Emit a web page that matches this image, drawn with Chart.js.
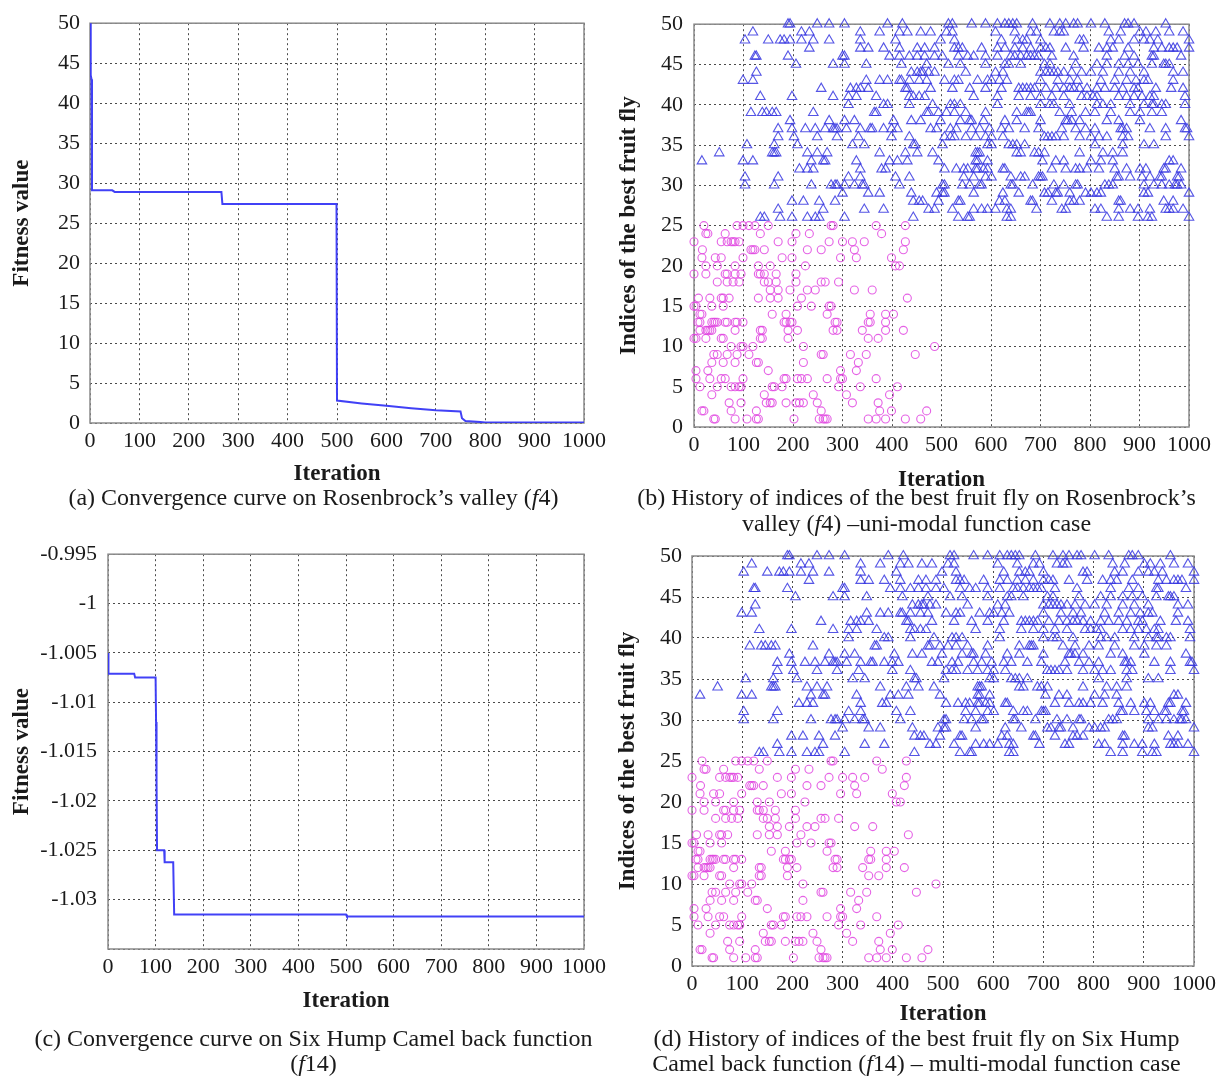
<!DOCTYPE html>
<html>
<head>
<meta charset="utf-8">
<title>Fruit fly convergence and best-index history</title>
<script src="https://cdn.jsdelivr.net/npm/chart.js@4.4.1/dist/chart.umd.min.js"></script>
<style>
    body { margin: 0; background: #fff; width: 1222px; height: 1077px; position: relative; overflow: hidden; }
    canvas { position: absolute; }
    .caption {
        position: absolute;
        width: 611px;
        text-align: center;
        font-family: 'Liberation Serif', 'Times New Roman', serif;
        font-size: 24px;
        line-height: 26px;
        color: #1a1a1a;
        white-space: nowrap;
    }
</style>
</head>
<body>
<canvas id="chartA" width="611" height="490" style="left:0;top:0"></canvas>
<canvas id="chartB" width="611" height="494" style="left:611px;top:0"></canvas>
<canvas id="chartC" width="611" height="490" style="left:0;top:530px"></canvas>
<canvas id="chartD" width="611" height="500" style="left:611px;top:530px"></canvas>

<div class="caption" style="left:8px;top:484px">(a) Convergence curve on Rosenbrock’s valley (<i>f</i>4)</div>
<div class="caption" style="left:611px;top:484px">(b) History of indices of the best fruit fly on Rosenbrock’s<br>valley (<i>f</i>4) –uni-modal function case</div>
<div class="caption" style="left:8px;top:1026px;line-height:25px">(c) Convergence curve on Six Hump Camel back function<br>(<i>f</i>14)</div>
<div class="caption" style="left:611px;top:1026px;line-height:25px">(d) History of indices of the best fruit fly on Six Hump<br>Camel back function (<i>f</i>14) – multi-modal function case</div>

<script>
// Convergence curve on Rosenbrock's valley (f4)
const curveAIter = [0, 1, 2, 3, 4, 45, 50, 266, 268, 499, 500, 550, 600, 650, 700, 750, 753, 760, 790, 800, 1000];
const curveAFit  = [52, 50, 43.5, 43, 29.1, 29.1, 28.9, 28.9, 27.4, 27.4, 2.8, 2.45, 2.15, 1.85, 1.6, 1.45, 0.6, 0.25, 0.12, 0.05, 0.05];

// Convergence curve on Six Hump Camel back (f14)
const curveCIter = [0, 1, 55, 57, 100, 101, 102, 103, 105, 118, 119, 137, 139, 500, 502, 1000];
const curveCFit  = [-1.0050, -1.0071, -1.0071, -1.0075, -1.0075, -1.0120, -1.0180, -1.0250, -1.0250, -1.0250, -1.0262, -1.0262, -1.0315, -1.0315, -1.0317, -1.0317];

// index of best fly -> iterations where it was best (upper half of the swarm)
const triangleRows = [
    [50, [190, 194, 249, 273, 304, 391, 421, 514, 522, 561, 589, 613, 628, 636, 644, 652, 684, 719, 739, 751, 767, 775, 802, 830, 870, 877, 889, 953]],
    [49, [119, 217, 233, 336, 375, 415, 431, 458, 478, 510, 522, 609, 648, 680, 692, 727, 739, 747, 838, 862, 901, 913, 933, 960, 988]],
    [48, [103, 150, 174, 182, 194, 217, 241, 273, 336, 407, 498, 526, 621, 652, 664, 672, 700, 779, 787, 842, 858, 889, 909, 921, 937, 1000]],
    [47, [233, 336, 352, 383, 415, 451, 466, 486, 526, 534, 542, 581, 613, 628, 648, 664, 680, 700, 711, 719, 751, 787, 818, 834, 846, 877, 929, 945, 960, 968, 976, 1000]],
    [46, [123, 126, 190, 300, 304, 395, 415, 435, 451, 466, 486, 502, 534, 553, 565, 589, 613, 640, 648, 660, 672, 680, 688, 696, 723, 767, 834, 870, 889, 925, 929, 984]],
    [45, [206, 281, 304, 348, 419, 470, 514, 538, 589, 628, 636, 660, 708, 719, 771, 814, 834, 858, 877, 897, 925, 949, 953, 960]],
    [44, [126, 439, 451, 458, 462, 474, 486, 549, 609, 624, 700, 711, 719, 727, 735, 747, 763, 783, 802, 826, 858, 881, 909, 968, 988]],
    [43, [99, 119, 348, 375, 391, 415, 419, 435, 455, 470, 506, 526, 534, 573, 593, 601, 617, 632, 700, 735, 759, 775, 822, 850, 874, 893, 909, 917, 968]],
    [42, [257, 316, 328, 336, 352, 427, 431, 478, 522, 557, 589, 621, 656, 664, 672, 680, 688, 711, 731, 747, 759, 767, 779, 794, 814, 830, 850, 866, 889, 897, 933, 964, 988]],
    [41, [134, 198, 281, 312, 328, 368, 435, 443, 455, 466, 565, 613, 656, 680, 700, 723, 747, 783, 794, 806, 814, 858, 874, 889, 905, 921, 929, 992]],
    [40, [312, 383, 391, 435, 482, 518, 526, 538, 613, 700, 719, 727, 759, 814, 826, 842, 881, 909, 925, 929, 945, 953, 992]],
    [39, [115, 138, 146, 158, 166, 241, 364, 368, 470, 474, 494, 510, 526, 549, 589, 652, 672, 676, 680, 739, 763, 791, 810, 842, 881, 901, 925, 945]],
    [38, [194, 273, 304, 324, 403, 439, 458, 498, 538, 557, 561, 585, 628, 652, 700, 751, 755, 763, 779, 834, 858, 901, 984]],
    [37, [170, 198, 225, 245, 265, 281, 285, 289, 308, 336, 356, 360, 383, 399, 411, 478, 490, 518, 530, 561, 577, 597, 621, 636, 668, 696, 743, 771, 791, 810, 862, 866, 874, 921, 953, 992, 996]],
    [36, [170, 202, 249, 289, 332, 399, 435, 506, 518, 526, 549, 569, 589, 601, 624, 708, 715, 723, 731, 747, 779, 802, 818, 834, 866, 877, 953, 1000]],
    [35, [107, 162, 209, 320, 344, 443, 447, 502, 593, 601, 636, 644, 652, 668, 810, 866, 909, 929]],
    [34, [51, 158, 162, 166, 229, 249, 269, 375, 427, 451, 482, 569, 573, 577, 652, 660, 688, 696, 708, 779, 826, 846, 866]],
    [33, [16, 99, 119, 237, 261, 265, 328, 395, 411, 431, 494, 569, 573, 593, 704, 731, 747, 802, 822, 846, 960, 968]],
    [32, [213, 229, 241, 336, 379, 387, 506, 530, 545, 553, 569, 573, 585, 593, 624, 628, 723, 751, 771, 779, 794, 818, 850, 874, 901, 913, 949, 953, 984]],
    [31, [103, 170, 312, 336, 407, 435, 545, 565, 589, 601, 640, 660, 668, 696, 700, 704, 854, 858, 881, 905, 921, 941, 945, 976, 980]],
    [30, [103, 162, 237, 277, 285, 289, 304, 324, 340, 344, 415, 502, 506, 542, 557, 577, 581, 640, 644, 684, 727, 747, 771, 775, 830, 838, 846, 909, 929, 945, 960, 972, 976, 984]],
    [29, [300, 352, 375, 439, 490, 502, 506, 565, 624, 656, 708, 715, 731, 735, 759, 791, 802, 814, 822, 909, 917, 1000]],
    [28, [198, 221, 253, 285, 443, 455, 462, 494, 534, 538, 617, 628, 680, 684, 723, 759, 767, 779, 858, 862, 949, 968]],
    [27, [170, 261, 344, 383, 474, 486, 522, 565, 581, 593, 609, 632, 640, 692, 743, 751, 810, 822, 858, 881, 897, 921, 953, 960, 968, 988]],
    [26, [134, 142, 174, 198, 229, 245, 253, 304, 443, 534, 553, 557, 632, 640, 834, 858, 897, 917, 925, 1000]]
];

// lower half of the swarm
const circleRows = [
    [25, [20, 87, 99, 111, 123, 150, 277, 281, 368, 427]],
    [24, [24, 28, 63, 134, 206, 233, 379]],
    [23, [0, 55, 67, 75, 79, 83, 91, 170, 198, 273, 300, 320, 344, 427]],
    [22, [17, 115, 119, 123, 142, 229, 257, 324, 423]],
    [21, [16, 43, 55, 99, 178, 198, 296, 328, 399]],
    [20, [24, 47, 83, 130, 154, 225, 407, 415]],
    [19, [0, 24, 63, 67, 83, 95, 130, 134, 142, 166, 206]],
    [18, [47, 67, 79, 91, 142, 150, 166, 206, 257, 265, 292]],
    [17, [154, 170, 194, 229, 245, 324, 360]],
    [16, [9, 32, 55, 59, 71, 130, 154, 170, 217, 431]],
    [15, [0, 4, 36, 59, 209, 237, 273, 277]],
    [14, [12, 16, 158, 186, 269, 356, 387, 403]],
    [13, [8, 12, 36, 40, 43, 47, 63, 67, 83, 87, 99, 182, 186, 194, 198, 285, 289, 352, 356, 387]],
    [12, [12, 24, 28, 32, 36, 83, 134, 138, 190, 209, 281, 289, 340, 387, 423]],
    [11, [0, 4, 24, 55, 59, 134, 138, 190, 352, 372]],
    [10, [75, 95, 99, 119, 221, 486]],
    [9, [40, 47, 67, 87, 111, 257, 261, 316, 348, 447]],
    [8, [36, 59, 83, 126, 130, 221, 332]],
    [7, [4, 28, 150, 296, 328]],
    [6, [4, 32, 55, 63, 99, 182, 186, 209, 217, 229, 269, 296, 300, 368]],
    [5, [12, 47, 75, 83, 91, 95, 158, 162, 178, 292, 336, 411]],
    [4, [36, 142, 241, 308, 395]],
    [3, [71, 95, 146, 154, 158, 186, 206, 213, 221, 249, 320, 372]],
    [2, [16, 20, 75, 126, 257, 375, 399, 470]],
    [1, [40, 43, 83, 107, 126, 130, 202, 253, 261, 265, 269, 352, 368, 387, 427, 458]]
];

const SERIF = "'Liberation Serif', 'Times New Roman', serif";
const TEXT = '#1a1a1a';

// gray frame round the plot area, drawn under the data
const frame = {
    id: 'frame',
    beforeDatasetsDraw(chart) {
        const { ctx, chartArea: a } = chart;
        ctx.save();
        ctx.strokeStyle = '#8a8a8a';
        ctx.lineWidth = 1.5;
        ctx.strokeRect(a.left, a.top, a.right - a.left, a.bottom - a.top);
        ctx.restore();
    }
};

function toPoints(xs, ys) {
    return xs.map((x, i) => ({ x: x, y: ys[i] }));
}

function rowsToPoints(rows) {
    return rows.flatMap(([idx, iters]) => iters.map(it => ({ x: it, y: idx })));
}

function axis(cfg) {
    return {
        type: 'linear',
        min: cfg.min,
        max: cfg.max,
        afterFit: cfg.fit,
        border: { display: false, dash: [2, 3] },
        grid: { color: '#4a4a4a', lineWidth: 1, drawTicks: false },
        ticks: {
            stepSize: cfg.step,
            padding: cfg.pad,
            color: TEXT,
            font: { family: SERIF, size: 22 },
            autoSkip: false,
            maxRotation: 0,
            callback: cfg.label || (v => String(v))
        },
        title: {
            display: true,
            text: cfg.title,
            color: TEXT,
            font: { family: SERIF, size: 23, weight: 'bold' },
            padding: cfg.titlePad
        }
    };
}

function makeChart(id, datasets, opts) {
    return new Chart(document.getElementById(id), {
        type: 'scatter',
        data: { datasets: datasets },
        options: {
            responsive: false,
            animation: false,
            devicePixelRatio: 1,
            layout: { padding: opts.padding },
            plugins: { legend: { display: false }, tooltip: { enabled: false } },
            scales: {
                x: axis(Object.assign({ min: 0, max: 1000, step: 100, pad: 5, title: 'Iteration',
                    fit: s => { s.height = opts.xHeight; } }, opts.x)),
                y: axis(Object.assign({ pad: 10, fit: s => { s.width = opts.yWidth; } }, opts.y))
            }
        },
        plugins: [frame]
    });
}

function curveSet(points) {
    return {
        data: points,
        showLine: true,
        borderColor: 'rgba(55, 55, 245, 0.95)',
        borderWidth: 2,
        pointRadius: 0,
        tension: 0
    };
}

function swarmSets() {
    return [
        {
            data: rowsToPoints(triangleRows),
            pointStyle: 'triangle',
            pointRadius: 5.5,
            pointBorderWidth: 1.1,
            pointBorderColor: 'rgba(55, 55, 225, 0.85)',
            pointBackgroundColor: 'rgba(0,0,0,0)',
            clip: false
        },
        {
            data: rowsToPoints(circleRows),
            pointStyle: 'circle',
            pointRadius: 4,
            pointBorderWidth: 1.1,
            pointBorderColor: 'rgba(225, 70, 225, 0.85)',
            pointBackgroundColor: 'rgba(0,0,0,0)',
            clip: false
        }
    ];
}

// (a)
makeChart('chartA', [curveSet(toPoints(curveAIter, curveAFit))], {
    padding: { top: 18, right: 23, left: 0, bottom: 0 },
    xHeight: 67, yWidth: 90,
    x: { titlePad: { top: 0, bottom: 2 } },
    y: { min: 0, max: 50, step: 5, title: 'Fitness value', titlePad: { top: 8, bottom: 0 } }
});

// (b)
makeChart('chartB', swarmSets(), {
    padding: { top: 17, right: 33, left: 0, bottom: 0 },
    xHeight: 67, yWidth: 83,
    x: { titlePad: { top: 0, bottom: 0 } },
    y: { min: 0, max: 50, step: 5, pad: 11, title: 'Indices of the best fruit fly', titlePad: { top: 4, bottom: 0 } }
});

// (c)
makeChart('chartC', [curveSet(toPoints(curveCIter, curveCFit))], {
    padding: { top: 22, right: 21, left: 0, bottom: 0 },
    xHeight: 71, yWidth: 108,
    x: { titlePad: { top: 0, bottom: 5 } },
    y: {
        min: -1.035, max: -0.995, step: 0.005, pad: 11, title: 'Fitness value',
        titlePad: { top: 8, bottom: 0 },
        label: v => (Math.abs(v + 1.035) < 1e-9 ? '' : String(Number(v.toFixed(3))))
    }
});

// (d)
makeChart('chartD', swarmSets(), {
    padding: { top: 26, right: 28, left: 0, bottom: 0 },
    xHeight: 64, yWidth: 81,
    x: { titlePad: { top: 0, bottom: 2 } },
    y: { min: 0, max: 50, step: 5, title: 'Indices of the best fruit fly', titlePad: { top: 3, bottom: 0 } }
});
</script>
</body>
</html>
